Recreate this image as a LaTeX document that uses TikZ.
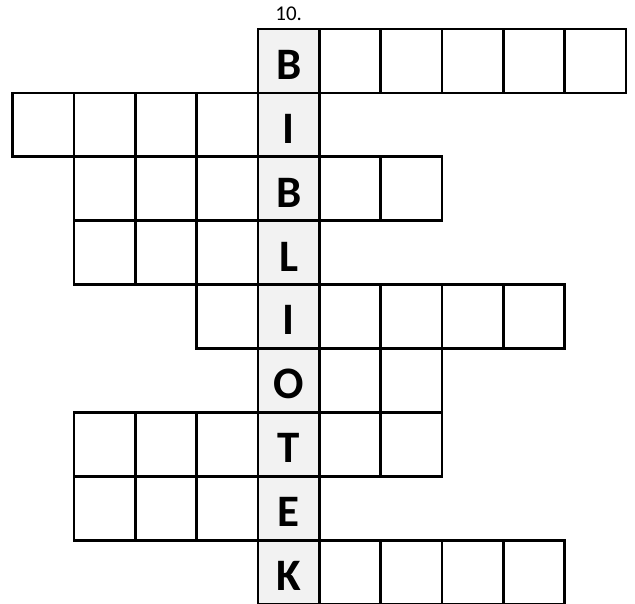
\documentclass[tikz,border=0pt]{standalone}
\usepackage{fontspec}
\setmainfont{Carlito}
\definecolor{shade}{HTML}{F2F2F2}
\begin{document}
\begin{tikzpicture}[x=1pt,y=-1pt,
  cell/.style={draw=black,line width=2.8pt,minimum width=61.33pt,minimum height=63.9pt,inner sep=0pt,fill=white},
  key/.style={cell,fill=shade},
  letter/.style={font=\fontsize{45}{45}\selectfont\bfseries,inner sep=0pt,anchor=base},
  lbl/.style={font=\fontsize{21}{21}\selectfont,inner sep=0pt,anchor=base}]
\useasboundingbox (0,0) rectangle (635,603);
\clip (0,0) rectangle (635,603);
\def\cx#1{12.7+61.33*#1+30.665}
\def\ry#1{29+63.9*#1+31.95}
% row index / first col / last col
\foreach \r/\a/\b in {0/4/9,1/0/4,2/1/6,3/1/4,4/3/8,5/4/6,6/1/6,7/1/4,8/4/8}{
  \foreach \c in {\a,...,\b}{
    \node[cell] (c-\r-\c) at ({\cx{\c}},{\ry{\r}}) {};
  }
}
\foreach \r/\l in {0/B,1/I,2/B,3/L,4/I,5/O,6/T,7/E,8/K}{
  \node[key] (k-\r) at ({\cx{4}},{\ry{\r}}) {};
  \node[letter] (t-\r) at ([yshift=-18.4pt]k-\r.center) {\l};
}
\node[lbl] (num) at ([yshift=7.3pt]k-0.north) {10.};
\end{tikzpicture}
\end{document}
